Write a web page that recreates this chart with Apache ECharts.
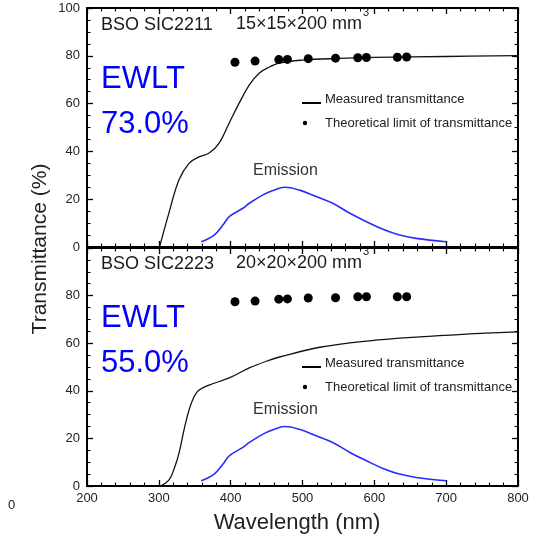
<!DOCTYPE html>
<html><head><meta charset="utf-8">
<script src="https://cdn.jsdelivr.net/npm/echarts@6/dist/echarts.min.js"></script>
<style>html,body{margin:0;padding:0;background:#fff}#c{width:541px;height:542px}</style>
</head><body><div id="c"></div>
<script>
// ---- data ----
const xTicks = [200, 300, 400, 500, 600, 700, 800];
const yTicks = [0, 20, 40, 60, 80, 100];

const wlMeasTop = [301, 314, 328, 342, 356, 370, 384, 398, 412, 426, 440, 454, 468, 500, 550, 600, 700, 800];
const measTop   = [0, 14.2, 28, 35, 37.7, 39.3, 43.5, 51.9, 60.3, 67.8, 72.8, 75.3, 77, 78.2, 78.9, 79.3, 79.7, 80.1];

const wlMeasBot = [302, 314, 321, 328, 335, 342, 349, 356, 370, 398, 426, 454, 468, 524, 593, 663, 733, 800];
const measBot   = [0, 2.5, 7, 13.7, 23.5, 31.9, 37.5, 40.3, 42.4, 45.4, 49.6, 52.9, 54.2, 58.3, 61, 62.7, 63.9, 64.8];

const wlEmis = [359, 377, 390, 398, 417, 426, 445, 459, 475, 496, 519, 542, 566, 589, 612, 635, 658, 700];
const emis   = [2.2, 5, 9.5, 12.7, 16.2, 18.3, 21.8, 23.6, 25, 23.8, 21.1, 18.3, 14.1, 10.6, 7.4, 5, 3.6, 2.2];

const wlLimit  = [406, 434, 467, 479, 508, 546, 577, 589, 632, 645];
const limitTop = [77.3, 77.8, 78.4, 78.5, 78.8, 79.0, 79.2, 79.3, 79.4, 79.5];
const limitBot = [77.4, 77.7, 78.5, 78.6, 79.0, 79.1, 79.5, 79.5, 79.5, 79.5];

const topTitle = ['BSO SIC2211', '15×15×200 mm', '3'];
const botTitle = ['BSO SIC2223', '20×20×200 mm', '3'];
const ewltTop = ['EWLT', '73.0%'];
const ewltBot = ['EWLT', '55.0%'];
const legendNames = ['Measured transmittance', 'Theoretical limit of transmittance'];

// ---- helpers ----
const zip = (a, b) => a.map((v, i) => [v, b[i]]);
const FONT = 'Liberation Sans, Arial, sans-serif';
const axisLine = { show: true, onZero: false, lineStyle: { color: '#000', width: 2 } };
const tick = { show: true, inside: true, length: 6, lineStyle: { color: '#000', width: 1.3 } };
const minor = (n) => ({ show: true, splitNumber: n, length: 3.5, lineStyle: { color: '#000', width: 1.1 } });

function xAxes(gi, showLabels) {
  return [
    { type: 'value', gridIndex: gi, position: 'bottom', min: 200, max: 800, interval: 100,
      axisLine, axisTick: tick, minorTick: minor(5), splitLine: { show: false },
      axisLabel: { show: showLabels, color: '#222', fontSize: 13, fontFamily: FONT, margin: 6 } },
    { type: 'value', gridIndex: gi, position: 'top', min: 200, max: 800, interval: 100,
      axisLine, axisTick: tick, minorTick: minor(5), splitLine: { show: false },
      axisLabel: { show: false } }
  ];
}
function yAxes(gi, hideMax) {
  return [
    { type: 'value', gridIndex: gi, position: 'left', min: 0, max: 100, interval: 20,
      axisLine, axisTick: tick, minorTick: minor(4), splitLine: { show: false },
      axisLabel: { color: '#222', fontSize: 13, fontFamily: FONT, margin: 7, showMaxLabel: !hideMax } },
    { type: 'value', gridIndex: gi, position: 'right', min: 0, max: 100, interval: 20,
      axisLine, axisTick: tick, minorTick: minor(4), splitLine: { show: false },
      axisLabel: { show: false } }
  ];
}

const lineS = (name, xi, yi, data, color, w) => ({
  name, type: 'line', xAxisIndex: xi, yAxisIndex: yi, data, smooth: 0.4,
  showSymbol: false, symbol: 'none', lineStyle: { color, width: w }, z: 3, animation: false
});
const dotS = (name, xi, yi, data) => ({
  name, type: 'scatter', xAxisIndex: xi, yAxisIndex: yi, data, symbol: 'circle',
  symbolSize: 9, itemStyle: { color: '#000', opacity: 1 }, z: 4, animation: false
});

function txt(x, y, text, size, color, extra) {
  return Object.assign({ type: 'text', x, y, silent: true,
    style: { text, fontSize: size, fontFamily: FONT, fill: color, align: 'left', verticalAlign: 'middle' } }, extra || {});
}

function panelGraphics(dy, dyLeg, title, ewlt) {
  return [
    txt(101, 25 + dy, title[0], 18, '#1a1a1a'),
    txt(236, 24 + dy, title[1], 18, '#1a1a1a'),
    txt(363, 13 + dy, title[2], 11, '#1a1a1a'),
    txt(101, 79 + dy, ewlt[0], 31, '#0000ff'),
    txt(101, 124 + dy, ewlt[1], 31, '#0000ff'),
    txt(253, 171 + dy, 'Emission', 16, '#333'),
    { type: 'line', silent: true, shape: { x1: 302, y1: 103 + dyLeg, x2: 321, y2: 103 + dyLeg },
      style: { stroke: '#000', lineWidth: 2 } },
    txt(325, 99 + dyLeg, legendNames[0], 13, '#222'),
    { type: 'circle', silent: true, shape: { cx: 305, cy: 123 + dyLeg, r: 2.2 }, style: { fill: '#000' } },
    txt(325, 123 + dyLeg, legendNames[1], 13, '#222')
  ];
}

const option = {
  backgroundColor: '#fff',
  animation: false,
  grid: [
    { left: 87, right: 23, top: 8, height: 239 },
    { left: 87, right: 23, top: 248, height: 238 }
  ],
  xAxis: [...xAxes(0, false), ...xAxes(1, true)],
  yAxis: [...yAxes(0, false), ...yAxes(1, true)],
  series: [
    lineS(legendNames[0], 0, 0, zip(wlMeasTop, measTop), '#111', 1.3),
    lineS('Emission', 0, 0, zip(wlEmis, emis), '#2b2bff', 1.6),
    dotS(legendNames[1], 0, 0, zip(wlLimit, limitTop)),
    lineS(legendNames[0], 2, 2, zip(wlMeasBot, measBot), '#111', 1.3),
    lineS('Emission', 2, 2, zip(wlEmis, emis), '#2b2bff', 1.6),
    dotS(legendNames[1], 2, 2, zip(wlLimit, limitBot))
  ],
  graphic: [
    ...panelGraphics(0, 0, topTitle, ewltTop),
    ...panelGraphics(239, 264, botTitle, ewltBot),
    txt(40, 249, 'Transmittance (%)', 21, '#222', { rotation: Math.PI / 2, style: { text: 'Transmittance (%)', fontSize: 21, fontFamily: FONT, fill: '#222', align: 'center', verticalAlign: 'middle' } }),
    txt(297, 523, 'Wavelength (nm)', 22, '#222', { style: { text: 'Wavelength (nm)', fontSize: 22, fontFamily: FONT, fill: '#222', align: 'center', verticalAlign: 'middle' } }),
    txt(8, 505, '0', 13, '#222')
  ]
};

const chart = echarts.init(document.getElementById('c'), null, { renderer: 'canvas' });
chart.setOption(option);
</script></body></html>
